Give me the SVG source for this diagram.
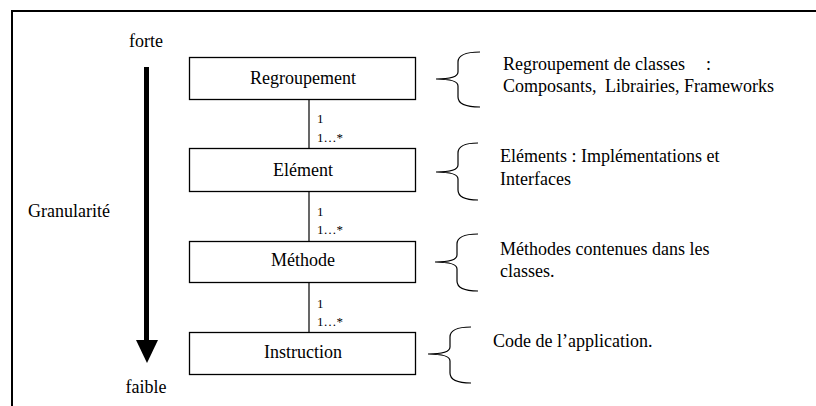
<svg xmlns="http://www.w3.org/2000/svg" width="816" height="406" viewBox="0 0 816 406">
<rect width="816" height="406" fill="#fff"/>
<path d="M12 406 V11 H816" fill="none" stroke="#000" stroke-width="2"/>
<g id="axis">
<text x="146" y="47" font-family="Liberation Serif" font-size="18" text-anchor="middle">forte</text>
<line x1="146.5" y1="67" x2="146.5" y2="342" stroke="#000" stroke-width="5"/>
<polygon points="136,340 158,340 147,363" fill="#000"/>
<text x="146" y="393" font-family="Liberation Serif" font-size="18" text-anchor="middle">faible</text>
<text x="28" y="217" font-family="Liberation Serif" font-size="18">Granularité</text>
</g>
<g id="connectors" stroke="#000" stroke-width="1.2">
<line x1="309" y1="100" x2="309" y2="148"/>
<line x1="309" y1="192" x2="309" y2="241"/>
<line x1="309" y1="283" x2="309" y2="332"/>
</g>
<g id="multiplicities">
<text x="317" y="123" font-family="Liberation Serif" font-size="13">1</text>
<text x="317" y="142" font-family="Liberation Serif" font-size="13">1…*</text>
<text x="317" y="216" font-family="Liberation Serif" font-size="13">1</text>
<text x="317" y="234" font-family="Liberation Serif" font-size="13">1…*</text>
<text x="317" y="308" font-family="Liberation Serif" font-size="13">1</text>
<text x="317" y="326" font-family="Liberation Serif" font-size="13">1…*</text>
</g>
<g id="regroupement">
<rect x="189.5" y="57.5" width="226" height="42" fill="#fff" stroke="#000" stroke-width="1.3"/>
<text x="303" y="84" font-family="Liberation Serif" font-size="18" text-anchor="middle">Regroupement</text>
</g>
<g id="element">
<rect x="189.5" y="148.5" width="226" height="43" fill="#fff" stroke="#000" stroke-width="1.3"/>
<text x="303" y="176" font-family="Liberation Serif" font-size="18" text-anchor="middle">Elément</text>
</g>
<g id="methode">
<rect x="189.5" y="241.5" width="226" height="41" fill="#fff" stroke="#000" stroke-width="1.3"/>
<text x="303" y="266" font-family="Liberation Serif" font-size="18" text-anchor="middle">Méthode</text>
</g>
<g id="instruction">
<rect x="189.5" y="332.5" width="226" height="42" fill="#fff" stroke="#000" stroke-width="1.3"/>
<text x="303" y="358" font-family="Liberation Serif" font-size="18" text-anchor="middle">Instruction</text>
</g>
<g id="desc-regroupement">
<path d="M480 52 Q458 52 458 62 V72 Q458 79 436 79 Q458 79 458 86 V97 Q458 107 480 107" fill="none" stroke="#000" stroke-width="1.2"/>
<text x="503" y="70" font-family="Liberation Serif" font-size="18">Regroupement de classes <tspan x="706">:</tspan></text>
<text x="503" y="92" font-family="Liberation Serif" font-size="18">Composants, <tspan x="605">Librairies, Frameworks</tspan></text>
</g>
<g id="desc-element">
<path d="M478 143 Q458 143 458 153 V165 Q458 172 436 172 Q458 172 458 179 V190 Q458 200 478 200" fill="none" stroke="#000" stroke-width="1.2"/>
<text x="500" y="162" font-family="Liberation Serif" font-size="18">Eléments : Implémentations et</text>
<text x="500" y="185" font-family="Liberation Serif" font-size="18">Interfaces</text>
</g>
<g id="desc-methode">
<path d="M478 234 Q457 234 457 244 V255 Q457 262 435 262 Q457 262 457 269 V281 Q457 291 478 291" fill="none" stroke="#000" stroke-width="1.2"/>
<text x="500" y="255" font-family="Liberation Serif" font-size="18">Méthodes contenues dans les</text>
<text x="500" y="277" font-family="Liberation Serif" font-size="18">classes.</text>
</g>
<g id="desc-instruction">
<path d="M471 327 Q450 327 450 337 V347 Q450 354 428 354 Q450 354 450 361 V373 Q450 383 471 383" fill="none" stroke="#000" stroke-width="1.2"/>
<text x="493" y="347" font-family="Liberation Serif" font-size="18">Code de l’application.</text>
</g>
</svg>
